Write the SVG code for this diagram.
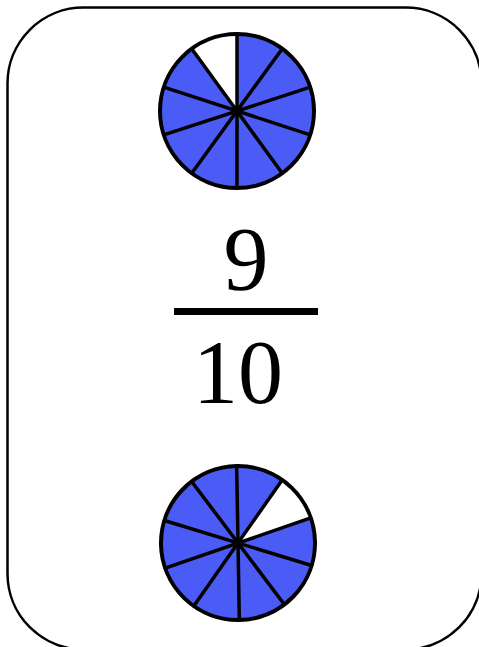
<svg xmlns="http://www.w3.org/2000/svg" width="479" height="647" viewBox="0 0 479 647">
<style>
.pie{fill:#4A5BF6}
.gap{fill:#ffffff}
.spoke{stroke:#000;stroke-width:3.5;stroke-linecap:round}
.rim{fill:none;stroke:#000;stroke-width:4}
.num{font-family:"Liberation Serif","Times New Roman",serif;font-size:90px;fill:#000;text-anchor:middle}
</style>
<rect id="card" x="7.5" y="7.5" width="474" height="642" rx="76" ry="76" fill="#fff" stroke="#000" stroke-width="2.5"/>
<g id="pie-top">
<circle class="pie" cx="237" cy="111" r="77"/>
<path class="gap" d="M237,111 L191.74,48.71 A77,77 0 0 1 237,34 Z"/>
<g class="spoke">
<line x1="237" y1="34" x2="237" y2="188"/>
<line x1="237" y1="34" x2="237" y2="188" transform="rotate(36 237 111)"/>
<line x1="237" y1="34" x2="237" y2="188" transform="rotate(72 237 111)"/>
<line x1="237" y1="34" x2="237" y2="188" transform="rotate(108 237 111)"/>
<line x1="237" y1="34" x2="237" y2="188" transform="rotate(144 237 111)"/>
</g>
<circle class="rim" cx="237" cy="111" r="77"/>
</g>
<g id="fraction">
<text class="num" x="246" y="290">9</text>
<rect x="174" y="308" width="144" height="7" fill="#000"/>
<text class="num" x="238" y="403">10</text>
</g>
<g id="pie-bottom" transform="rotate(-1 238 543)">
<circle class="pie" cx="238" cy="543" r="77"/>
<path class="gap" d="M238,543 L283.26,480.71 A77,77 0 0 1 311.23,519.21 Z"/>
<g class="spoke">
<line x1="238" y1="466" x2="238" y2="620"/>
<line x1="238" y1="466" x2="238" y2="620" transform="rotate(36 238 543)"/>
<line x1="238" y1="466" x2="238" y2="620" transform="rotate(72 238 543)"/>
<line x1="238" y1="466" x2="238" y2="620" transform="rotate(108 238 543)"/>
<line x1="238" y1="466" x2="238" y2="620" transform="rotate(144 238 543)"/>
</g>
<circle class="rim" cx="238" cy="543" r="77"/>
</g>
<g id="connectors"/>
</svg>
